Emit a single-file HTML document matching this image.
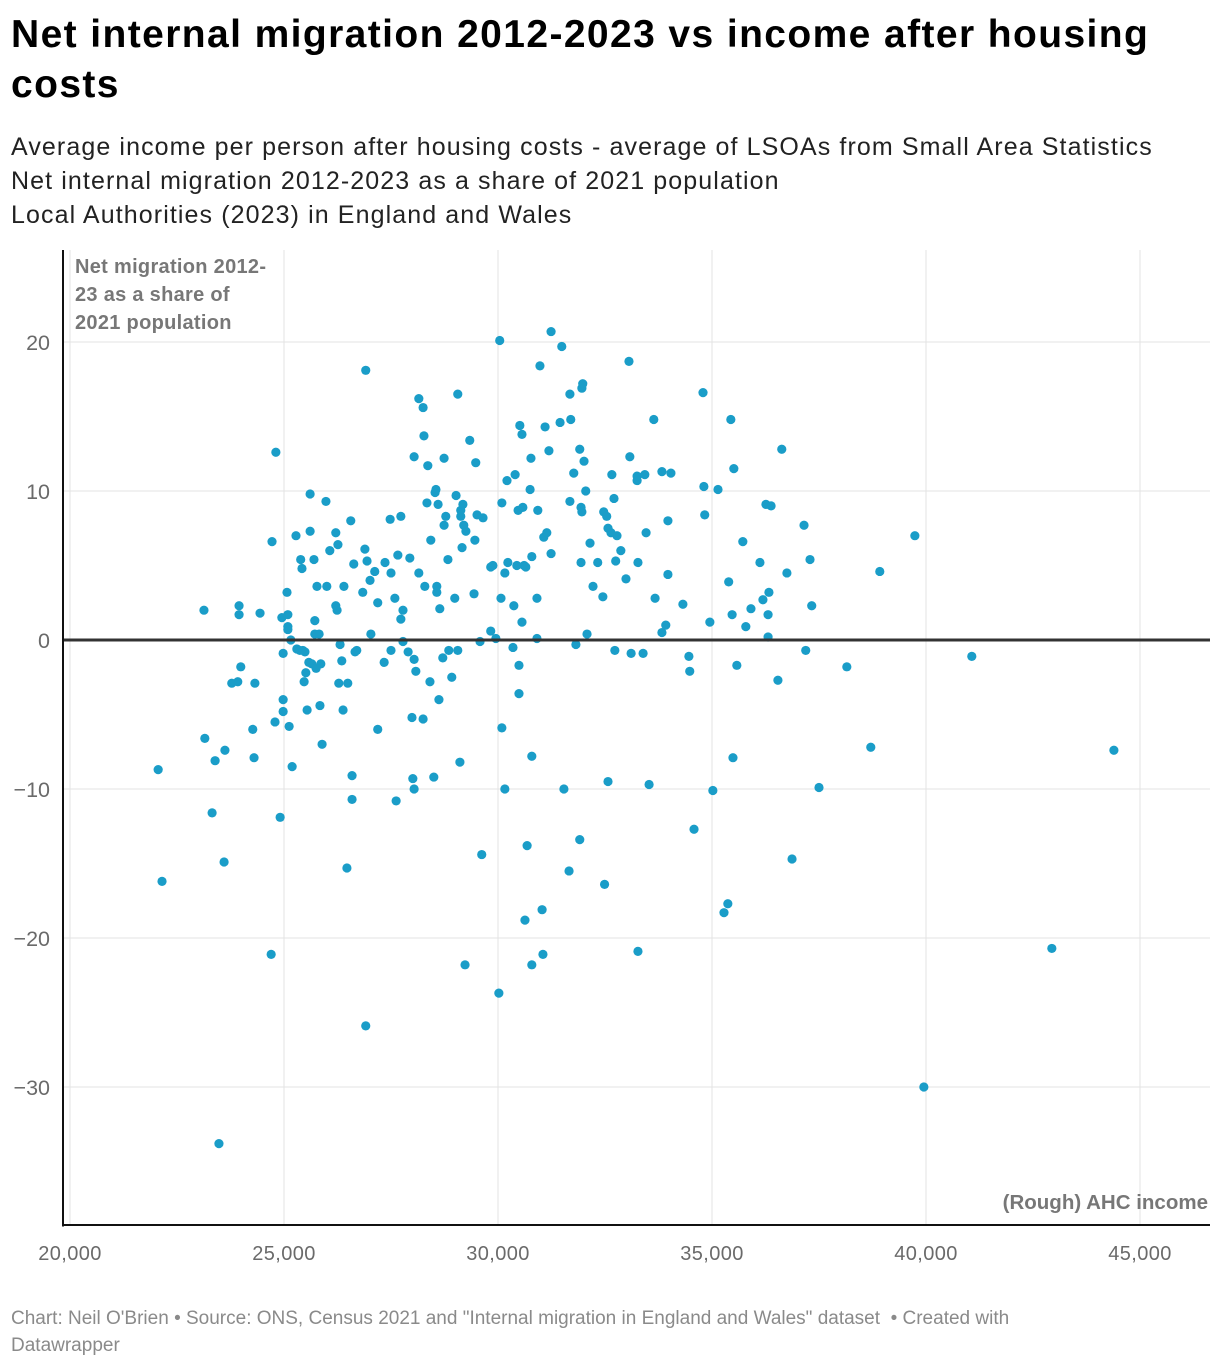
<!DOCTYPE html>
<html><head><meta charset="utf-8"><style>
html,body{margin:0;padding:0;background:#fff;width:1220px;height:1368px;overflow:hidden}
body{font-family:"Liberation Sans",sans-serif;position:relative}
#title{position:absolute;left:11px;top:10px;width:1200px;font-size:39px;font-weight:bold;line-height:50px;color:#000;letter-spacing:1.4px}
.sub{position:absolute;left:11px;font-size:25px;color:#222;line-height:34px;letter-spacing:1.1px;white-space:nowrap}
#footer{position:absolute;left:11px;top:1305px;font-size:19px;color:#8a8a8a;line-height:27px;width:1180px}
svg{position:absolute;left:0;top:0}
</style></head><body>
<div id="title">Net internal migration 2012-2023 vs income after housing<br>costs</div>
<div class="sub" style="top:130px">Average income per person after housing costs - average of LSOAs from Small Area Statistics</div>
<div class="sub" style="top:164px">Net internal migration 2012-2023 as a share of 2021 population</div>
<div class="sub" style="top:198px">Local Authorities (2023) in England and Wales</div>
<svg id="chart" width="1220" height="1368"></svg>
<div id="footer">Chart: Neil O'Brien • Source: ONS, Census 2021 and "Internal migration in England and Wales" dataset &nbsp;• Created with<br>Datawrapper</div>
<script>
const xTicks=[20,25,30,35,40,45];
const xTickLabels=["20,000","25,000","30,000","35,000","40,000","45,000"];
const yTicks=[20,10,0,-10,-20,-30];
const yTickLabels=["20","10","0","\u221210","\u221220","\u221230"];
const incomeK=[22.06,22.15,23.13,23.15,23.32,23.39,23.48,23.60,23.62,23.78,23.92,23.95,23.95,23.99,24.27,24.30,24.32,24.44,24.72,24.79,24.81,24.70,24.91,24.95,24.98,24.98,24.98,25.07,25.09,25.09,25.09,25.12,25.16,25.19,25.28,25.30,25.37,25.39,25.42,25.44,25.47,25.49,25.51,25.54,25.58,25.61,25.61,25.65,25.70,25.72,25.72,25.75,25.77,25.82,25.84,25.86,25.89,25.98,26.00,26.07,26.21,26.21,26.24,26.26,26.28,26.31,26.35,26.38,26.40,26.47,26.49,26.56,26.59,26.59,26.63,26.66,26.70,26.84,26.89,26.91,26.91,26.94,27.01,27.03,27.12,27.19,27.19,27.34,27.36,27.48,27.50,27.50,27.59,27.62,27.66,27.73,27.73,27.78,27.78,27.90,27.94,27.99,28.01,28.04,28.04,28.04,28.08,28.15,28.15,28.25,28.25,28.27,28.29,28.34,28.36,28.41,28.43,28.50,28.53,28.55,28.57,28.57,28.60,28.62,28.64,28.71,28.74,28.74,28.78,28.83,28.85,28.92,28.99,29.02,29.06,29.06,29.11,29.13,29.13,29.16,29.18,29.20,29.23,29.25,29.34,29.44,29.46,29.48,29.51,29.58,29.65,29.62,29.83,29.83,29.88,29.95,30.02,30.04,30.07,30.09,30.09,30.16,30.16,30.21,30.23,30.35,30.37,30.40,30.44,30.47,30.49,30.49,30.51,30.56,30.56,30.58,30.61,30.63,30.65,30.68,30.75,30.77,30.79,30.79,30.79,30.91,30.91,30.93,30.98,31.03,31.05,31.07,31.10,31.14,31.19,31.24,31.24,31.45,31.49,31.54,31.66,31.68,31.68,31.70,31.77,31.82,31.91,31.91,31.94,31.94,31.96,31.96,31.98,32.01,32.05,32.08,32.15,32.22,32.33,32.45,32.47,32.49,32.54,32.57,32.57,32.64,32.66,32.71,32.73,32.75,32.78,32.87,32.99,33.06,33.08,33.11,33.25,33.25,33.27,33.27,33.39,33.43,33.46,33.53,33.64,33.67,33.83,33.83,33.92,33.97,33.97,34.04,34.32,34.46,34.48,34.58,34.79,34.81,34.83,34.95,35.02,35.14,35.28,35.37,35.39,35.44,35.47,35.49,35.51,35.58,35.72,35.79,35.91,36.12,36.19,36.26,36.31,36.31,36.33,36.38,36.54,36.63,36.75,36.87,37.15,37.19,37.29,37.33,37.50,38.15,38.71,38.92,39.74,39.95,41.07,42.94,44.39];
const migration=[-8.7,-16.2,2.0,-6.6,-11.6,-8.1,-33.8,-14.9,-7.4,-2.9,-2.8,2.3,1.7,-1.8,-6.0,-7.9,-2.9,1.8,6.6,-5.5,12.6,-21.1,-11.9,1.5,-0.9,-4.0,-4.8,3.2,1.7,0.9,0.7,-5.8,0.0,-8.5,7.0,-0.6,-0.7,5.4,4.8,-0.7,-2.8,-0.8,-2.2,-4.7,-1.5,9.8,7.3,-1.6,5.4,1.3,0.4,-1.9,3.6,0.4,-4.4,-1.6,-7.0,9.3,3.6,6.0,7.2,2.3,2.0,6.4,-2.9,-0.3,-1.4,-4.7,3.6,-15.3,-2.9,8.0,-9.1,-10.7,5.1,-0.8,-0.7,3.2,6.1,18.1,-25.9,5.3,4.0,0.4,4.6,-6.0,2.5,-1.5,5.2,8.1,4.5,-0.7,2.8,-10.8,5.7,8.3,1.4,-0.1,2.0,-0.8,5.5,-5.2,-9.3,-10.0,-1.3,12.3,-2.1,16.2,4.5,-5.3,15.6,13.7,3.6,9.2,11.7,-2.8,6.7,-9.2,9.9,10.1,3.6,3.2,9.1,-4.0,2.1,-1.2,12.2,7.7,8.3,5.4,-0.7,-2.5,2.8,9.7,-0.7,16.5,-8.2,8.3,8.7,6.2,9.1,7.7,-21.8,7.3,13.4,3.1,6.7,11.9,8.4,-0.1,8.2,-14.4,0.6,4.9,5.0,0.1,-23.7,20.1,2.8,9.2,-5.9,4.5,-10.0,10.7,5.2,-0.5,2.3,11.1,5.0,8.7,-3.6,-1.7,14.4,13.8,1.2,8.9,5.0,-18.8,4.9,-13.8,10.1,12.2,-7.8,-21.8,5.6,0.1,2.8,8.7,18.4,-18.1,-21.1,6.9,14.3,7.2,12.7,20.7,5.8,14.6,19.7,-10.0,-15.5,9.3,16.5,14.8,11.2,-0.3,12.8,-13.4,5.2,8.9,8.6,16.9,17.2,12.0,10.0,0.4,6.5,3.6,5.2,2.9,8.6,-16.4,8.3,-9.5,7.5,7.2,11.1,9.5,-0.7,5.3,7.0,6.0,4.1,18.7,12.3,-0.9,10.7,11.0,-20.9,5.2,-0.9,11.1,7.2,-9.7,14.8,2.8,11.3,0.5,1.0,4.4,8.0,11.2,2.4,-1.1,-2.1,-12.7,16.6,10.3,8.4,1.2,-10.1,10.1,-18.3,-17.7,3.9,14.8,1.7,-7.9,11.5,-1.7,6.6,0.9,2.1,5.2,2.7,9.1,1.7,0.2,3.2,9.0,-2.7,12.8,4.5,-14.7,7.7,-0.7,5.4,2.3,-9.9,-1.8,-7.2,4.6,7.0,-30.0,-1.1,-20.7,-7.4];

const NS="http://www.w3.org/2000/svg";
const svg=document.getElementById('chart');
const L=63,R=1210,T=250,B=1225;
function xs(v){return 70+(v-20)*42.8;}
function ys(v){return 640-v*14.9;}
function mk(tag,attrs,parent){const e=document.createElementNS(NS,tag);for(const k in attrs)e.setAttribute(k,attrs[k]);(parent||svg).appendChild(e);return e;}

xTicks.forEach((t,i)=>{
  const g=mk('line',{x1:xs(t),x2:xs(t),y1:T,y2:B,stroke:'#e3e3e3','stroke-width':1});
  
  
  const tx=mk('text',{x:xs(t),y:1260,'text-anchor':'middle','font-size':20,fill:'#6a6a6a','font-family':'Liberation Sans, sans-serif','letter-spacing':'0.4'});
  tx.textContent=xTickLabels[i];
  
  
});
yTicks.forEach((t,i)=>{
  if(t!==0){
    const g=mk('line',{x1:L,x2:R,y1:ys(t),y2:ys(t),stroke:'#e3e3e3','stroke-width':1});
    
    
  }
  const tx=mk('text',{x:50,y:ys(t)+8,'text-anchor':'end','font-size':21.5,fill:'#6a6a6a','font-family':'Liberation Sans, sans-serif'});
  tx.textContent=yTickLabels[i];
  
  
});
const ya=mk('text',{x:75,y:273,'font-size':20,'font-weight':'bold',fill:'#777','font-family':'Liberation Sans, sans-serif','letter-spacing':'0.3'});


["Net migration 2012-","23 as a share of","2021 population"].forEach((s,i)=>{const ts=mk('tspan',{x:75,dy:i?28:0},ya);ts.textContent=s;});
const xa=mk('text',{x:1208,y:1209,'text-anchor':'end','font-size':20.5,'font-weight':'bold',fill:'#777','font-family':'Liberation Sans, sans-serif'});
xa.textContent="(Rough) AHC income";



incomeK.forEach((x,i)=>{
  const c=mk('circle',{cx:xs(x),cy:ys(migration[i]),r:4.6,fill:'#1a9dc8'});
  
  
});
const z=mk('line',{x1:L,x2:R,y1:ys(0),y2:ys(0),stroke:'#333','stroke-width':3});


const la=mk('line',{x1:L,x2:L,y1:T,y2:B+1.5,stroke:'#111','stroke-width':2});


const ba=mk('line',{x1:L,x2:R,y1:B,y2:B,stroke:'#111','stroke-width':2});


</script>
</body></html>
